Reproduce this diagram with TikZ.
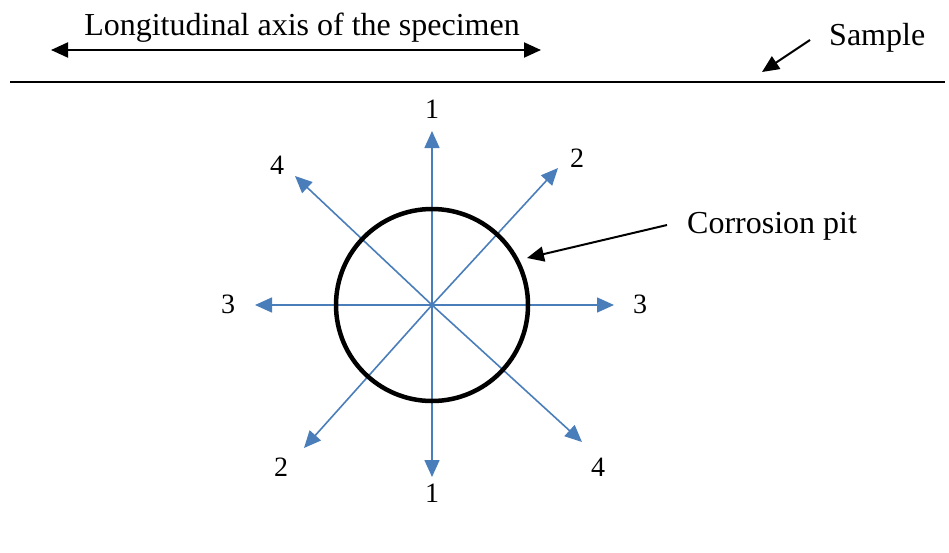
\documentclass[tikz,border=0pt]{standalone}
\usepackage{fontspec}
\setmainfont{Liberation Serif}
\usetikzlibrary{arrows.meta}
\definecolor{raycol}{HTML}{4A7EBB}
\tikzset{
  >={Triangle[length=17pt,width=15pt]},
  ray/.style={draw=raycol, line width=1.6pt, ->},
  pointer/.style={line width=2pt, ->},
  pit/.style={line width=4.5pt},
  num/.style={font=\fontsize{28}{32}\selectfont, inner sep=0pt},
  txt/.style={font=\fontsize{32}{38}\selectfont, inner sep=0pt, anchor=base west}
}
\begin{document}
\begin{tikzpicture}[x=1pt,y=-1pt]
\useasboundingbox (0,0) rectangle (949,552);
% specimen axis and sample surface
\node[txt, anchor=base] (axis) at (302,35) {Longitudinal axis of the specimen};
\coordinate (axl) at (51,50);
\coordinate (axr) at (541,50);
\draw[pointer, <->] (axl) -- (axr);
\node[txt] (sample) at (829,45) {Sample};
\coordinate (sfrom) at (810,40);
\coordinate (sto) at (762,72);
\draw[pointer] (sfrom) -- (sto);
\coordinate (sl) at (10,82);
\coordinate (sr) at (945,82);
\draw[line width=2pt] (sl) -- (sr);
% the pit and the directions
\coordinate (c) at (432,305);
\foreach \n/\tx/\ty/\lx/\ly/\t in {1u/432/131/432/109/1, 1d/432/477/432/493/1,
    3l/255/305/228/304/3, 3r/614/305/640/304/3,
    2u/558/168/577/158/2, 2d/304/448/281/467/2,
    4u/295/176/277/165/4, 4d/582/442/598/467/4}
  {\coordinate (r\n) at (\tx,\ty);
   \draw[ray] (c) -- (r\n);
   \node[num] (l\n) at (\lx,\ly) {\t};}
\draw[pit] (c) circle[radius=96];
\node[txt] (pitlabel) at (687,233) {Corrosion pit};
\coordinate (pfrom) at (667,225);
\coordinate (pto) at (527,258);
\draw[pointer] (pfrom) -- (pto);
\end{tikzpicture}
\end{document}
